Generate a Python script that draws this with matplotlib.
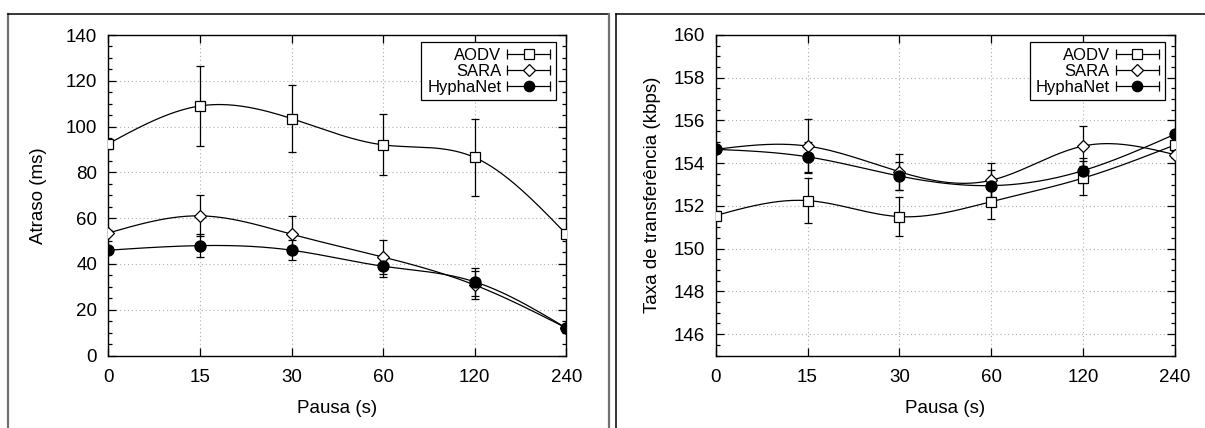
import numpy as np
import matplotlib
matplotlib.use("Agg")
import matplotlib.pyplot as plt
from matplotlib.lines import Line2D
from matplotlib.legend_handler import HandlerBase
from matplotlib.ticker import MultipleLocator
from matplotlib.transforms import ScaledTranslation

plt.rcParams['font.family'] = ['Liberation Sans', 'DejaVu Sans']
plt.rcParams['font.size'] = 13

pausas = ['0', '15', '30', '60', '120', '240']
protocolos = ['AODV', 'SARA', 'HyphaNet']

# atraso (ms)
atraso_aodv = [92.5, 109.0, 103.5, 92.0, 86.5, 53.0]
atraso_aodv_err = [1.5, 17.3, 14.5, 13.3, 16.7, 1.0]
atraso_sara = [53.5, 61.0, 53.0, 43.0, 30.8, 12.0]
atraso_sara_err = [1.0, 9.0, 8.0, 7.5, 6.0, 1.5]
atraso_hypha = [46.0, 48.0, 46.0, 39.0, 32.2, 12.0]
atraso_hypha_err = [1.0, 5.0, 4.5, 4.8, 6.0, 1.5]

# taxa de transferencia (kbps)
taxa_aodv = [151.55, 152.25, 151.5, 152.2, 153.3, 154.85]
taxa_aodv_err = [0.2, 1.05, 0.9, 0.8, 0.8, 0.15]
taxa_sara = [154.65, 154.8, 153.6, 153.2, 154.8, 154.4]
taxa_sara_err = [0.1, 1.25, 0.85, 0.8, 0.95, 0.15]
taxa_hypha = [154.65, 154.3, 153.4, 152.95, 153.65, 155.35]
taxa_hypha_err = [0.1, 0.7, 0.65, 0.75, 0.6, 0.15]

estilos = {
    'AODV': dict(marker='s', mfc='white', ms=7.5),
    'SARA': dict(marker='D', mfc='white', ms=6.5),
    'HyphaNet': dict(marker='o', mfc='black', ms=8),
}


def csplines(x, y, n=200):
    # spline cubica natural, como o "smooth csplines" do gnuplot
    x = np.asarray(x, float)
    y = np.asarray(y, float)
    k = len(x)
    h = np.diff(x)
    A = np.zeros((k, k))
    b = np.zeros(k)
    A[0, 0] = A[-1, -1] = 1
    for i in range(1, k - 1):
        A[i, i - 1] = h[i - 1]
        A[i, i] = 2 * (h[i - 1] + h[i])
        A[i, i + 1] = h[i]
        b[i] = 6 * ((y[i + 1] - y[i]) / h[i] - (y[i] - y[i - 1]) / h[i - 1])
    M = np.linalg.solve(A, b)
    xs = np.linspace(x[0], x[-1], n)
    j = np.clip(np.searchsorted(x, xs) - 1, 0, k - 2)
    t0 = x[j + 1] - xs
    t1 = xs - x[j]
    hj = h[j]
    ys = (M[j] * t0 ** 3 / (6 * hj) + M[j + 1] * t1 ** 3 / (6 * hj)
          + (y[j] / hj - M[j] * hj / 6) * t0 + (y[j + 1] / hj - M[j + 1] * hj / 6) * t1)
    return xs, ys


class HandlerBarra(HandlerBase):
    def create_artists(self, legend, orig, xd, yd, w, h, fontsize, trans):
        y = h / 2 - yd
        x0, x1 = -xd, -xd + w
        linha = Line2D([x0, x1], [y, y], color='black', lw=0.9)
        caps = Line2D([x0, x1], [y, y], ls='none', marker='|', ms=7,
                      mew=0.9, color='black')
        mk = Line2D([(x0 + x1) / 2], [y], ls='none', marker=orig.get_marker(),
                    ms=orig.get_markersize(), mfc=orig.get_markerfacecolor(),
                    mec='black', mew=0.9)
        for a in (linha, caps, mk):
            a.set_transform(trans)
        return [linha, caps, mk]


def painel(ax, series, ylabel, ylim, major, minor, ylab_x):
    x = np.arange(len(pausas))
    handles = []
    for nome, (vals, errs) in zip(protocolos, series):
        st = estilos[nome]
        xs, ys = csplines(x, vals)
        ax.plot(xs, ys, color='black', lw=0.9, zorder=3)
        ax.errorbar(x, vals, yerr=errs, fmt='none', ecolor='black',
                    elinewidth=0.9, capsize=3, capthick=0.9, zorder=4)
        ax.plot(x, vals, ls='none', marker=st['marker'], ms=st['ms'],
                mfc=st['mfc'], mec='black', mew=0.9, zorder=5)
        handles.append(Line2D([], [], marker=st['marker'], ms=st['ms'] - 0.5,
                              mfc=st['mfc'], mec='black'))
    ax.set_xlim(0, len(pausas) - 1)
    ax.set_ylim(*ylim)
    ax.set_xticks(x)
    ax.set_xticklabels(pausas)
    for lab in ax.get_xticklabels():
        lab.set_transform(lab.get_transform() + ScaledTranslation(3 / 100, 0, fig.dpi_scale_trans))
    ax.yaxis.set_major_locator(MultipleLocator(major))
    ax.yaxis.set_minor_locator(MultipleLocator(minor))
    ax.tick_params(which='both', direction='in', top=True, right=True,
                   width=0.9, color='black', labelsize=13.5)
    ax.tick_params(which='major', length=6)
    ax.tick_params(which='minor', length=3)
    ax.tick_params(axis='x', which='minor', top=False, bottom=False)
    ax.tick_params(axis='x', pad=10)
    ax.tick_params(axis='y', pad=8)
    ax.grid(True, which='major', color='#b0b0b0', lw=0.8, ls=(0, (1, 2.5)))
    ax.set_axisbelow(True)
    for s in ax.spines.values():
        s.set_linewidth(1.0)
    ax.set_xlabel('Pausa (s)', fontsize=13.5)
    ax.xaxis.set_label_coords(0.5, -0.139)
    ax.set_ylabel(ylabel, fontsize=13.5)
    ax.yaxis.set_label_coords(ylab_x, 0.5)
    leg = ax.legend(handles, protocolos, loc='upper right', fontsize=12,
                    bbox_to_anchor=(1 - 10 / 458, 1 - 7 / 320), borderaxespad=0,
                    markerfirst=False, handlelength=2.6, handletextpad=0.35,
                    labelspacing=0.05, borderpad=0.35, fancybox=False,
                    framealpha=1, edgecolor='black',
                    handler_map={Line2D: HandlerBarra()})
    leg.get_frame().set_linewidth(0.9)
    return leg


W, H = 1205, 428
fig = plt.figure(figsize=(W / 100, H / 100), dpi=100)
ax1 = fig.add_axes([108.3 / W, (H - 355.5) / H, 458 / W, 320.5 / H])
ax2 = fig.add_axes([715.7 / W, (H - 355.5) / H, 459 / W, 320.5 / H])

painel(ax1, [(atraso_aodv, atraso_aodv_err), (atraso_sara, atraso_sara_err),
             (atraso_hypha, atraso_hypha_err)],
       'Atraso (ms)', (0, 140), 20, 5, (47 - 108.3) / 458)
painel(ax2, [(taxa_aodv, taxa_aodv_err), (taxa_sara, taxa_sara_err),
             (taxa_hypha, taxa_hypha_err)],
       'Taxa de transferência (kbps)', (145, 160), 2, 0.5, (661 - 715.7) / 459)


# molduras dos paineis
def linha_fig(xs, ys, **kw):
    fig.add_artist(Line2D([v / W for v in xs], [1 - v / H for v in ys],
                          transform=fig.transFigure, **kw))


linha_fig([8, 8], [14, H], color='#707070', lw=1.6)
linha_fig([8, 609], [14, 14], color='black', lw=1.1)
linha_fig([609, 609], [14, H], color='#707070', lw=1.6)
linha_fig([616, 616], [14, H], color='black', lw=1.1)
linha_fig([616, W], [14, 14], color='black', lw=1.1)

fig.savefig('out.png', dpi=100)
